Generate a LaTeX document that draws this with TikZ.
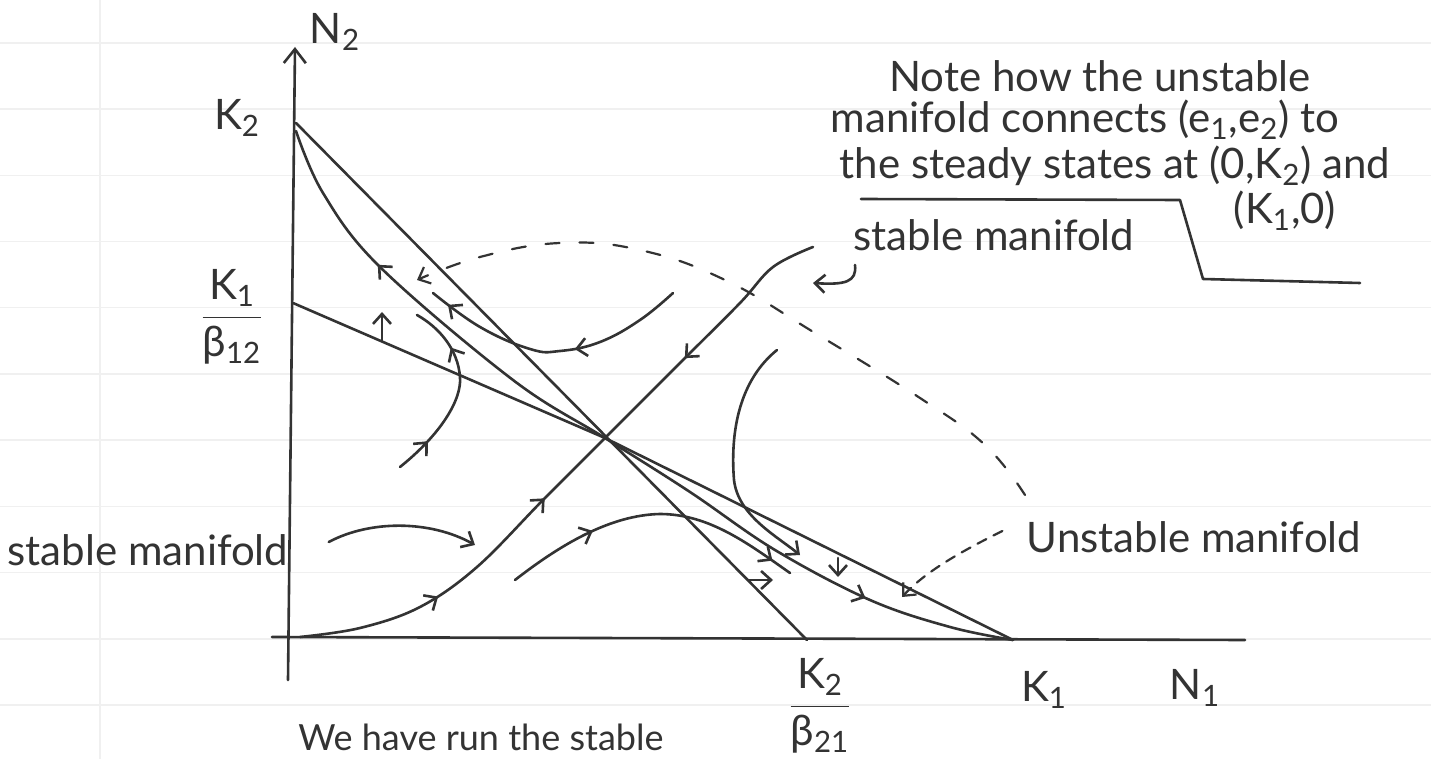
\documentclass[tikz,border=0pt]{standalone}
\usepackage{amsmath}
\usepackage{fontspec}
\setmainfont{Lato}
\usetikzlibrary{arrows.meta,decorations.markings}

\tikzset{
  ink/.style={line width=1.3pt,draw=black!80,line cap=round,line join=round},
  barb/.style={-{Straight Barb[length=5pt,width=9pt]}},
  fwd/.style={postaction={decorate,decoration={markings,mark=at position #1 with {\arrow{Straight Barb[length=5pt,width=9pt]}}}}},
  bwd/.style={postaction={decorate,decoration={markings,mark=at position #1 with {\arrowreversed{Straight Barb[length=5pt,width=9pt]}}}}},
  hand/.style={font=\fontsize{21}{24}\selectfont,text=black!80,inner sep=0pt},
  dashink/.style={ink,line width=1.1pt,dash pattern=on 7pt off 10pt},
  ruled/.style={line width=0.7pt,draw=black!6}
}

\begin{document}
\begin{tikzpicture}[x=0.5pt,y=-0.5pt]
  \useasboundingbox (0,0) rectangle (1431,759);
  \fill[white] (0,0) rectangle (1431,759);
  % paper
  \foreach \k in {0,...,10} \draw[ruled] (0,{43+66.2*\k}) -- (1431,{43+66.2*\k});
  \draw[ruled] (100,0) -- (100,759);

  % points
  \coordinate (O) at (288,680);
  \coordinate (Ytop) at (295,47);
  \coordinate (Xl) at (272,637);
  \coordinate (Xr) at (1245,640);
  \coordinate (E) at (605,438);
  \coordinate (Ktwo) at (296,123);
  \coordinate (Ktwob) at (296,131);
  \coordinate (Kbeta) at (293,303);
  \coordinate (Kbetab) at (807,640);
  \coordinate (Kone) at (1013,640);
  \coordinate (S0) at (300,637);
  \coordinate (S1) at (813,247);

  % axes
  \draw[ink,-{Straight Barb[length=7pt,width=11pt]}] (O) -- (Ytop);
  \draw[ink] (Xl) -- (Xr);

  % nullclines
  \draw[ink] (Ktwo) -- (Kbetab);
  \draw[ink] (Kbeta) -- (E) -- (Kone);

  % manifolds
  \draw[ink,bwd=0.175,fwd=0.83] plot[smooth,tension=0.6] coordinates {(Ktwob) (323,193) (380,267) (513,380) (E) (690,492) (775,550) (870,600) (950,627) (Kone)};
  \draw[ink,fwd=0.22,fwd=0.44,bwd=0.74] plot[smooth,tension=0.6] coordinates {(S0) (360,628) (420,607) (477,567) (543,500) (E) (680,363) (740,303) (773,267) (S1)};

  % trajectories
  \draw[ink,fwd=0.42,fwd=0.93] plot[smooth,tension=0.7] coordinates {(673,293) (640,320) (600,342) (560,351) (530,349) (480,327) (433,293)};
  \draw[ink,fwd=0.2,fwd=0.75] (400,467) .. controls (440,435) and (462,400) .. (460,377) .. controls (458,350) and (440,328) .. (417,315);
  \draw[ink,fwd=0.3,fwd=0.93] (515,580) .. controls (560,545) and (610,515) .. (660,514) .. controls (710,514) and (750,545) .. (790,573);
  \draw[ink,barb] (777,350) .. controls (740,380) and (730,430) .. (734,480) .. controls (738,515) and (775,535) .. (800,555);

  % direction marks
  \draw[ink,barb] (382,341) -- (382,312);
  \draw[ink,barb] (748,580) -- (773,580);
  \draw[ink,barb] (838,558) -- (838,577);

  % labels
  \node[hand] (lblNtwo) at (335,32) {N\textsubscript{2}};
  \node[hand] (lblKtwo) at (237,118) {K\textsubscript{2}};
  \node[hand] (lblKbeta) at (232,317) {$\dfrac{\text{K\textsubscript{1}}}{\text{β\textsubscript{12}}}$};
  \node[hand] (lblKbetab) at (820,706) {$\dfrac{\text{K\textsubscript{2}}}{\text{β\textsubscript{21}}}$};
  \node[hand] (lblKone) at (1044,690) {K\textsubscript{1}};
  \node[hand] (lblNone) at (1195,688) {N\textsubscript{1}};
  \node[hand] (lblstableL) at (148,550) {stable manifold};
  \node[hand] (lblstableT) at (994,235) {stable manifold};
  \node[hand] (lblunst) at (1194,537) {Unstable manifold};
  \node[hand] (lblnoteA) at (1100,76) {Note how the unstable};
  \node[hand] (lblnoteB) at (1085,120) {manifold connects (e\textsubscript{1},e\textsubscript{2}) to};
  \node[hand] (lblnoteC) at (1115,166) {the steady states at (0,K\textsubscript{2}) and};
  \node[hand] (lblnoteD) at (1285,211) {(K\textsubscript{1},0)};
  \node[hand,anchor=base west,font=\fontsize{18}{21}\selectfont] (lblwe) at (298,750) {We have run the stable};

  % pointers
  \coordinate (pL) at (475,545);
  \coordinate (pT) at (813,283);
  \coordinate (pU) at (902,597);
  \coordinate (pD) at (417,280);
  \draw[ink,barb] ([xshift=20pt,yshift=4pt]lblstableL.east) .. controls (370,520) and (430,520) .. (pL);
  \draw[ink,barb] (855,265) .. controls (857,282) and (845,285) .. (pT);
  \draw[dashink,dash pattern=on 5pt off 4pt,barb] ([xshift=-12pt,yshift=3pt]lblunst.west) .. controls (960,552) and (925,572) .. (pU);
  \draw[dashink,barb] plot[smooth,tension=0.7] coordinates {(1025,495) (985,445) (920,398) (815,333) (725,280) (640,250) (560,243) (480,257) (pD)};
  \draw[ink] (861,199) -- (1180,200) -- (1203,279) -- (1360,283);
\end{tikzpicture}
\end{document}
